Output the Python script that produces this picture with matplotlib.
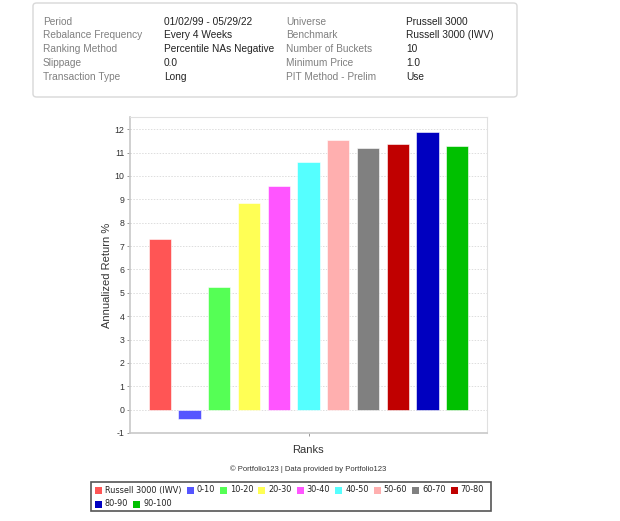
import numpy as np
import matplotlib
matplotlib.use('Agg')
import matplotlib.pyplot as plt
from matplotlib.patches import Rectangle, FancyBboxPatch

# Chart data
ranks = ['Russell 3000 (IWV)', '0-10', '10-20', '20-30', '30-40', '40-50',
         '50-60', '60-70', '70-80', '80-90', '90-100']
returns = [7.29, -0.40, 5.24, 8.83, 9.57, 10.60, 11.52, 11.18, 11.35, 11.88, 11.27]
colors = ['#FF5555', '#5555FF', '#55FF55', '#FFFF55', '#FF55FF', '#55FFFF',
          '#FFAFAF', '#808080', '#C00000', '#0000C0', '#00C000']

info_labels_left = ['Period', 'Rebalance Frequency', 'Ranking Method', 'Slippage', 'Transaction Type']
info_values_left = ['01/02/99 - 05/29/22', 'Every 4 Weeks', 'Percentile NAs Negative', '0.0', 'Long']
info_labels_right = ['Universe', 'Benchmark', 'Number of Buckets', 'Minimum Price', 'PIT Method - Prelim']
info_values_right = ['Prussell 3000', 'Russell 3000 (IWV)', '10', '1.0', 'Use']

W, H = 620, 521
fig = plt.figure(figsize=(W / 100, H / 100), dpi=100)
plt.rcParams['font.family'] = ['Liberation Sans', 'DejaVu Sans']
plt.rcParams['axes.unicode_minus'] = False


def px(x, y):
    # pixel coords (top-left origin) -> figure fraction
    return x / W, 1 - y / H


# info panel on top
x0, y0 = px(33, 97)
x1, y1 = px(517, 3)
fig.patches.append(FancyBboxPatch((x0, y0), x1 - x0, y1 - y0,
                                  boxstyle='round,pad=0,rounding_size=0.006',
                                  transform=fig.transFigure, facecolor='white',
                                  edgecolor='#d8d8d8', linewidth=1))
row_y = [22, 35.5, 49.5, 62.5, 76.5]
for i in range(5):
    fig.text(*px(43, row_y[i]), info_labels_left[i], fontsize=7.3, color='#808080', va='center')
    fig.text(*px(164, row_y[i]), info_values_left[i], fontsize=7.3, color='#222222', va='center')
    fig.text(*px(286, row_y[i]), info_labels_right[i], fontsize=7.3, color='#808080', va='center')
    fig.text(*px(406, row_y[i]), info_values_right[i], fontsize=7.3, color='#222222', va='center')

# bar chart
ax = fig.add_axes([130 / W, 1 - 433 / H, (487 - 130) / W, (433 - 117) / H])
x = np.arange(len(ranks))
bars = ax.bar(x, returns, width=0.755, color=colors, edgecolor='white', linewidth=0.4, zorder=3)
ax.set_xlim(-1, 11)
ax.set_ylim(-1, 12.52)
ax.set_yticks(range(-1, 13))
ax.set_xticks([5])
ax.set_xticklabels([''])
ax.yaxis.grid(True, linestyle=(0, (1.5, 1.5)), color='#dddddd', linewidth=0.7, zorder=0)
for s in ['top', 'right']:
    ax.spines[s].set_color('#e0e0e0')
for s in ['left', 'bottom']:
    ax.spines[s].set_color('#c8c8c8')
    ax.spines[s].set_linewidth(1.2)
ax.tick_params(axis='y', labelsize=6.3, colors='#888888', labelcolor='#333333', length=2, width=0.6, pad=2)
ax.tick_params(axis='x', length=2, colors='#888888', width=0.6)
ax.set_ylabel('Annualized Return %', fontsize=8, color='#333333', labelpad=2)
fig.text(*px(308, 450), 'Ranks', fontsize=8, color='#333333', ha='center', va='center')
fig.text(*px(308, 469), '\u00a9 Portfolio123 | Data provided by Portfolio123', fontsize=5.5,
         color='#333333', ha='center', va='center')

# legend box, laid out like the web chart (two rows)
lx0, ly0 = px(91, 511)
lx1, ly1 = px(491, 482)
fig.patches.append(Rectangle((lx0, ly0), lx1 - lx0, ly1 - ly0, transform=fig.transFigure,
                             facecolor='white', edgecolor='#555555', linewidth=1.2))
renderer = fig.canvas.get_renderer()
rows = [list(range(0, 9)), [9, 10]]
row_centers = [490, 504]
for r, idx in enumerate(rows):
    cx = 95
    cy = row_centers[r]
    for i in idx:
        sx, sy = px(cx, cy + 3.5)
        fig.patches.append(Rectangle((sx, sy), 7 / W, 7 / H, transform=fig.transFigure,
                                     facecolor=colors[i], edgecolor='none'))
        t = fig.text(*px(cx + 10, cy), ranks[i], fontsize=5.9, family='DejaVu Sans',
                     color='#222222', va='center')
        w = t.get_window_extent(renderer).width
        cx += 10 + w + 5

fig.savefig('out.png', dpi=100, facecolor='white')
